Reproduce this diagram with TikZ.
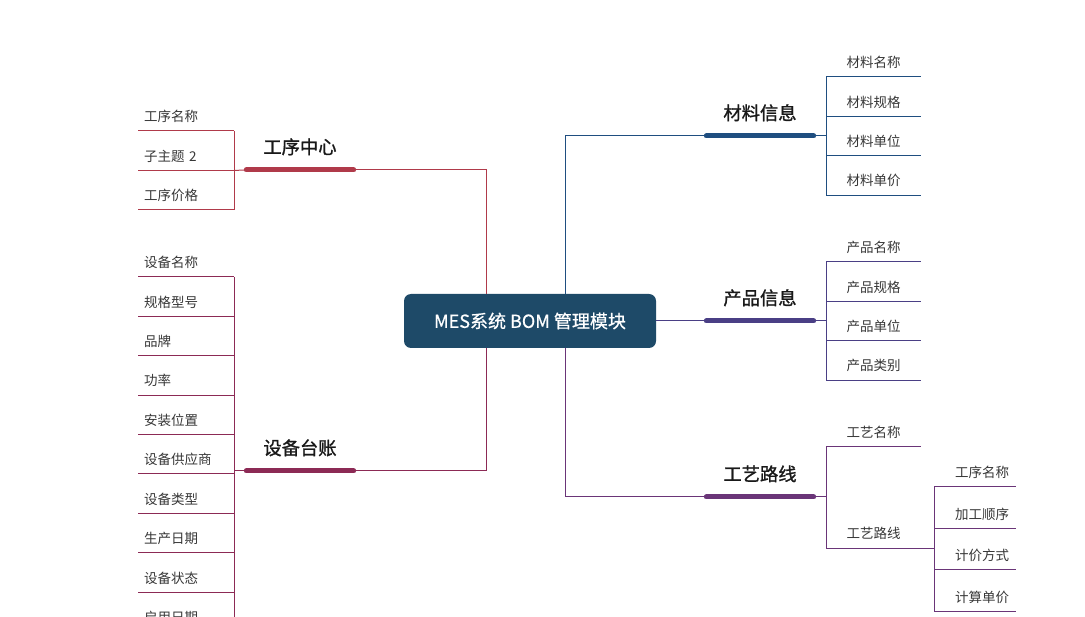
\documentclass[tikz,border=0pt]{standalone}
\usepackage{fontspec}
\setmainfont{Noto Sans CJK SC}
\newfontfamily\medfont{Noto Sans CJK SC}[FakeBold=1.2]
\newfontfamily\rootfont{Noto Sans CJK SC}[FakeBold=0.7]
\usepackage{tikz}
\usetikzlibrary{positioning}
\definecolor{rootblue}{RGB}{30,74,104}
\definecolor{procred}{RGB}{176,58,74}
\definecolor{equipred}{RGB}{140,42,85}
\definecolor{matblue}{RGB}{31,78,128}
\definecolor{prodpurple}{RGB}{74,63,133}
\definecolor{routepurple}{RGB}{106,53,120}
\definecolor{leaftext}{RGB}{55,55,55}

\begin{document}
\begin{tikzpicture}[
  x=1pt, y=-1pt,
  root/.style={fill=rootblue, rounded corners=7pt, minimum width=252pt,
    minimum height=54pt, text=white, font=\rootfont\fontsize{18}{20}\selectfont},
  topic/.style={anchor=south, minimum width=107pt, inner xsep=0pt,
    inner ysep=14pt, text height=15pt, text depth=2pt, text=black!90,
    font=\medfont\fontsize{18.3}{20}\selectfont},
  leaf/.style={anchor=south west, inner ysep=8pt, text height=12pt,
    text depth=1pt, text=leaftext, font=\fontsize{13.5}{16}\selectfont},
  leafL/.style={leaf, text width=84pt, align=left, inner xsep=6pt},
  leafR/.style={leaf, minimum width=95pt, inner xsep=0pt},
  leafS/.style={leaf, text width=68pt, align=right, inner xsep=7pt},
  bar/.style={line width=5pt, line cap=round},
  wire/.style={line width=1pt}
]
\useasboundingbox (0,0) rectangle (1085,617);

\node[root] (root) at (530,321) {MES系统 BOM 管理模块};
\coordinate (jLt) at ([xshift=-44pt]root.north);
\coordinate (jLb) at ([xshift=-44pt]root.south);
\coordinate (jRt) at ([xshift=35pt]root.north);
\coordinate (jRb) at ([xshift=35pt]root.south);

% left branches
\node[topic] (gx) at (300,170) {工序中心};
\node[topic] (sb) at (300,471) {设备台账};

\node[leafL] (p1) at (138,131) {工序名称};
\node[leafL, below=10pt of p1] (p2) {子主题 2};
\node[leafL, below=10pt of p2] (p3) {工序价格};

\node[leafL] (e1) at (138,277) {设备名称};
\node[leafL, below=10pt of e1] (e2) {规格型号};
\node[leafL, below=10pt of e2] (e3) {品牌};
\node[leafL, below=10pt of e3] (e4) {功率};
\node[leafL, below=10pt of e4] (e5) {安装位置};
\node[leafL, below=10pt of e5] (e6) {设备供应商};
\node[leafL, below=10pt of e6] (e7) {设备类型};
\node[leafL, below=10pt of e7] (e8) {生产日期};
\node[leafL, below=10pt of e8] (e9) {设备状态};
\node[leafL, below=10pt of e9] (e10) {启用日期};

% right branches
\node[topic] (cl) at (760,136) {材料信息};
\node[topic] (cp) at (760,321) {产品信息};
\node[topic] (gy) at (760,497) {工艺路线};

\node[leafR] (m1) at (826,77) {材料名称};
\node[leafR, below=10pt of m1] (m2) {材料规格};
\node[leafR, below=10pt of m2] (m3) {材料单位};
\node[leafR, below=10pt of m3] (m4) {材料单价};

\node[leafR] (c1) at (826,262) {产品名称};
\node[leafR, below=10pt of c1] (c2) {产品规格};
\node[leafR, below=10pt of c2] (c3) {产品单位};
\node[leafR, below=10pt of c3] (c4) {产品类别};

\node[leafR] (r1) at (826,447) {工艺名称};
\node[leafR] (r2) at (826,548) {工艺路线};

\node[leafS] (s1) at (934,487) {工序名称};
\node[leafS, below=12pt of s1] (s2) {加工顺序};
\node[leafS, below=12pt of s2] (s3) {计价方式};
\node[leafS, below=12pt of s3] (s4) {计算单价};

% 工序中心
\draw[wire, procred] (gx.south east) -| (jLt);
\draw[bar, procred] (gx.south west) -- (gx.south east);
\draw[wire, procred] (gx.south west) -- (p2.south east);
\draw[wire, procred] (p1.south east) -- (p3.south east);
\foreach \n in {p1,p2,p3}
  \draw[wire, procred] (\n.south west) -- (\n.south east);

% 设备台账
\draw[wire, equipred] (sb.south east) -| (jLb);
\draw[bar, equipred] (sb.south west) -- (sb.south east);
\draw[wire, equipred] (sb.south west) -- (sb.south west -| e6.south east);
\draw[wire, equipred] (e1.south east) -- (e10.south east);
\foreach \n in {e1,e2,e3,e4,e5,e6,e7,e8,e9,e10}
  \draw[wire, equipred] (\n.south west) -- (\n.south east);

% 材料信息
\draw[wire, matblue] (cl.south west) -| (jRt);
\draw[bar, matblue] (cl.south west) -- (cl.south east);
\draw[wire, matblue] (cl.south east) -- (cl.south east -| m1.south west);
\draw[wire, matblue] (m1.south west) -- (m4.south west);
\foreach \n in {m1,m2,m3,m4}
  \draw[wire, matblue] (\n.south west) -- (\n.south east);

% 产品信息
\draw[wire, prodpurple] (root.east) -- (cp.south west);
\draw[bar, prodpurple] (cp.south west) -- (cp.south east);
\draw[wire, prodpurple] (cp.south east) -- (cp.south east -| c1.south west);
\draw[wire, prodpurple] (c1.south west) -- (c4.south west);
\foreach \n in {c1,c2,c3,c4}
  \draw[wire, prodpurple] (\n.south west) -- (\n.south east);

% 工艺路线
\draw[wire, routepurple] (gy.south west) -| (jRb);
\draw[bar, routepurple] (gy.south west) -- (gy.south east);
\draw[wire, routepurple] (gy.south east) -- (gy.south east -| r1.south west);
\draw[wire, routepurple] (r1.south west) -- (r2.south west);
\foreach \n in {r1,r2}
  \draw[wire, routepurple] (\n.south west) -- (\n.south east);
\draw[wire, routepurple] (r2.south east) -- (r2.south east -| s1.south west);
\draw[wire, routepurple] (s1.south west) -- (s4.south west);
\foreach \n in {s1,s2,s3,s4}
  \draw[wire, routepurple] (\n.south west) -- (\n.south east);
\end{tikzpicture}
\end{document}
